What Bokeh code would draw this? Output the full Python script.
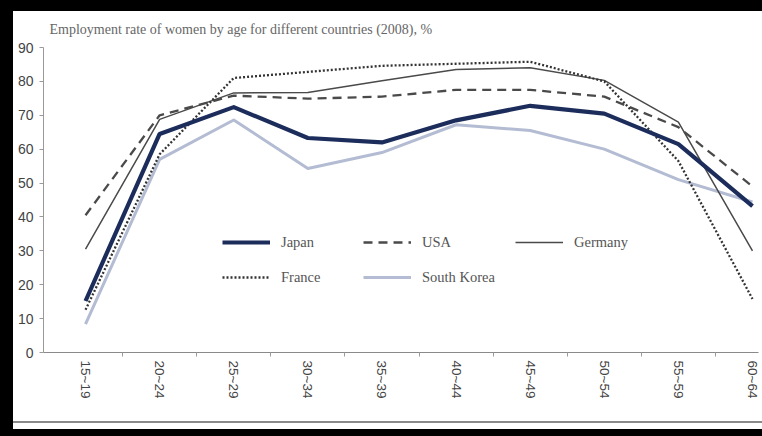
from bokeh.plotting import figure
from bokeh.models import FixedTicker, Legend, LegendItem, Range1d
from bokeh.embed import file_html
from bokeh.resources import INLINE

# ---- data ----
ages = ["15~19", "20~24", "25~29", "30~34", "35~39",
        "40~44", "45~49", "50~54", "55~59", "60~64"]
japan = [15.2, 64.5, 72.4, 63.3, 62.0, 68.5, 72.8, 70.5, 61.5, 43.2]
usa = [40.5, 70.0, 75.8, 74.9, 75.5, 77.5, 77.5, 75.5, 66.5, 49.0]
germany = [30.5, 68.8, 76.6, 76.7, 80.2, 83.5, 84.0, 80.3, 68.0, 30.0]
france = [12.6, 58.5, 81.0, 82.8, 84.6, 85.2, 85.8, 80.0, 56.5, 15.8]
korea = [8.4, 57.0, 68.6, 54.3, 59.0, 67.2, 65.5, 60.0, 51.0, 44.4]
y_ticks = [0, 10, 20, 30, 40, 50, 60, 70, 80, 90]
subtitle = "Employment rate of women by age for different countries (2008), %"

x = list(range(len(ages)))

p = figure(width=749, height=410,
           x_range=Range1d(-0.567, 9.081), y_range=Range1d(0, 90),
           output_backend="svg", toolbar_location=None,
           min_border_left=30, min_border_right=4,
           min_border_top=36, min_border_bottom=69,
           background_fill_color="white", border_fill_color="white",
           outline_line_color=None,
           styles={"position": "relative", "left": "13px", "top": "11px",
                   "box-shadow": "0 2px 0 0 #8a8a8a, 0 8px 0 0 #ffffff, 0 0 0 40px #000000"})

p.title.text = subtitle
p.title.align = "left"
p.title.offset = 6
p.title.vertical_align = "top"
p.title.standoff = 18
p.title.text_font = "Liberation Serif"
p.title.text_font_size = "14px"
p.title.text_font_style = "normal"
p.title.text_color = "#666666"

p.xgrid.visible = False
p.ygrid.visible = False

# y axis
ya = p.yaxis[0]
ya.ticker = FixedTicker(ticks=y_ticks, minor_ticks=[])
ya.axis_line_color = "#9a9a9a"
ya.major_tick_line_color = "#9a9a9a"
ya.major_tick_out = 4
ya.major_tick_in = 0
ya.minor_tick_line_color = None
ya.major_label_text_font = "Liberation Sans"
ya.major_label_text_font_size = "14px"
ya.major_label_text_color = "#444444"
ya.major_label_standoff = 6

# x axis
xa = p.xaxis[0]
xa.ticker = FixedTicker(ticks=x, minor_ticks=[i + 0.5 for i in x[:-1]])
xa.major_label_overrides = {i: ages[i] for i in x}
xa.major_label_orientation = "vertical"
xa.axis_line_color = "#8a8a8a"
xa.major_tick_line_color = None
xa.major_tick_out = 0
xa.major_tick_in = 0
xa.minor_tick_line_color = "#9a9a9a"
xa.minor_tick_out = 4
xa.minor_tick_in = 0
xa.major_label_text_font = "Liberation Sans"
xa.major_label_text_font_size = "13.5px"
xa.major_label_text_color = "#444444"
xa.major_label_standoff = 4

r_korea = p.line(x, korea, line_color="#b3bcd2", line_width=3, line_join="round")
r_germany = p.line(x, germany, line_color="#4a4a4a", line_width=1.5)
r_usa = p.line(x, usa, line_color="#4a4a4a", line_width=2.3, line_dash="9 6")
r_france = p.line(x, france, line_color="#333333", line_width=2.3, line_dash="2 2")
r_japan = p.line(x, japan, line_color="#1c2d5c", line_width=4.2, line_join="round")


def add_legend(items, loc):
    lg = Legend(items=items, location=loc, orientation="vertical",
                glyph_width=48, glyph_height=20, label_height=20,
                label_standoff=11, spacing=15, padding=0, margin=0,
                border_line_alpha=0, background_fill_alpha=0,
                label_text_font="Liberation Serif", label_text_font_size="14.5px",
                label_text_color="#555555")
    p.add_layout(lg, "center")


add_legend([LegendItem(label="Japan", renderers=[r_japan]),
            LegendItem(label="France", renderers=[r_france])], (179, 65))
add_legend([LegendItem(label="USA", renderers=[r_usa]),
            LegendItem(label="South Korea", renderers=[r_korea])], (320, 65))
add_legend([LegendItem(label="Germany", renderers=[r_germany])], (472, 100))

open("out.html", "w").write(file_html(p, INLINE))
